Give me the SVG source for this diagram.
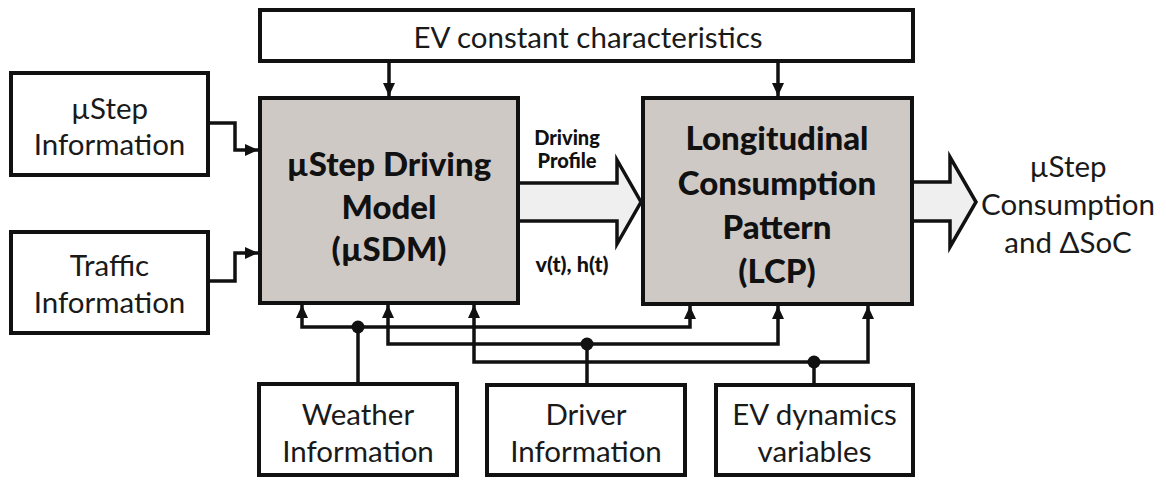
<svg xmlns="http://www.w3.org/2000/svg" width="1166" height="482" viewBox="0 0 1166 482">
<style>
.box{fill:#fff;stroke:#111;stroke-width:4}
.main{fill:#cfc9c6;stroke:#111;stroke-width:4}
.fat{fill:#efefef;stroke:#111;stroke-width:3.5;stroke-linejoin:miter}
.ln{fill:none;stroke:#111;stroke-width:3.5}
.t{font-family:Lato,"Open Sans",sans-serif;font-size:29.5px;fill:#1a1a1a;text-anchor:middle;dominant-baseline:central}
.b{font-family:Lato,"Open Sans",sans-serif;font-weight:900;font-size:33px;fill:#111;text-anchor:middle;dominant-baseline:central}
.s{font-family:Lato,"Open Sans",sans-serif;font-weight:900;font-size:20px;fill:#111;text-anchor:middle;dominant-baseline:central}
</style>
<defs>
<marker id="ah" markerUnits="userSpaceOnUse" markerWidth="14" markerHeight="14" viewBox="0 0 14 14" refX="13" refY="7" orient="auto">
<path d="M0,1 L13,7 L0,13 Z" fill="#111"/>
</marker>
</defs>
<rect width="1166" height="482" fill="#fff"/>
<g id="connectors">
<path class="ln" d="M389,61 V96" marker-end="url(#ah)"/>
<path class="ln" d="M778,61 V96" marker-end="url(#ah)"/>
<path class="ln" d="M208,123 H235 V150 H258" marker-end="url(#ah)"/>
<path class="ln" d="M208,281 H235 V253 H258" marker-end="url(#ah)"/>
<path class="ln" d="M358,384 V327"/>
<path class="ln" d="M358,327 H302 V305" marker-end="url(#ah)"/>
<path class="ln" d="M358,327 H690 V306" marker-end="url(#ah)"/>
<path class="ln" d="M587,385 V344"/>
<path class="ln" d="M587,344 H388 V305" marker-end="url(#ah)"/>
<path class="ln" d="M587,344 H778 V306" marker-end="url(#ah)"/>
<path class="ln" d="M814,385 V362"/>
<path class="ln" d="M814,362 H474 V305" marker-end="url(#ah)"/>
<path class="ln" d="M814,362 H868 V306" marker-end="url(#ah)"/>
<circle cx="358" cy="327" r="6.5" fill="#111"/>
<circle cx="587" cy="344" r="6.5" fill="#111"/>
<circle cx="814" cy="362" r="6.5" fill="#111"/>
<polygon id="driving-profile-arrow" class="fat" points="510,183 617,183 617,160 641,202 617,244 617,221 510,221"/>
<polygon id="output-arrow" class="fat" points="905,182 950,182 950,157 976,202 950,247 950,221 905,221"/>
<text class="s" x="567" y="137">Driving</text>
<text class="s" x="567" y="160">Profile</text>
<text class="s" x="572" y="264" style="font-size:21.5px">v(t), h(t)</text>
</g>
<g id="ev-constant">
<rect class="box" x="260" y="10" width="653" height="51"/>
<text class="t" x="588" y="36">EV constant characteristics</text>
</g>
<g id="ustep-info">
<rect class="box" x="11" y="73" width="197" height="102"/>
<text class="t" x="109.5" y="107">µStep</text>
<text class="t" x="109.5" y="143">Information</text>
</g>
<g id="traffic-info">
<rect class="box" x="11" y="232" width="197" height="101"/>
<text class="t" x="109.5" y="264">Traffic</text>
<text class="t" x="109.5" y="301">Information</text>
</g>
<g id="usdm">
<rect class="main" x="260" y="98" width="258" height="205"/>
<text class="b" x="389" y="163">µStep Driving</text>
<text class="b" x="389" y="206">Model</text>
<text class="b" x="389" y="248">(µSDM)</text>
</g>
<g id="lcp">
<rect class="main" x="643" y="98" width="269" height="206"/>
<text class="b" x="777" y="137">Longitudinal</text>
<text class="b" x="777" y="182">Consumption</text>
<text class="b" x="777" y="226">Pattern</text>
<text class="b" x="777" y="270">(LCP)</text>
</g>
<g id="output">
<text class="t" x="1068" y="165">µStep</text>
<text class="t" x="1068" y="203">Consumption</text>
<text class="t" x="1068" y="241">and ΔSoC</text>
</g>
<g id="weather-info">
<rect class="box" x="259" y="384" width="198" height="91"/>
<text class="t" x="358" y="413">Weather</text>
<text class="t" x="358" y="450">Information</text>
</g>
<g id="driver-info">
<rect class="box" x="487" y="385" width="198" height="90"/>
<text class="t" x="586" y="413">Driver</text>
<text class="t" x="586" y="450">Information</text>
</g>
<g id="ev-dynamics">
<rect class="box" x="716" y="385" width="197" height="90"/>
<text class="t" x="814.5" y="413">EV dynamics</text>
<text class="t" x="814.5" y="450">variables</text>
</g>
</svg>
